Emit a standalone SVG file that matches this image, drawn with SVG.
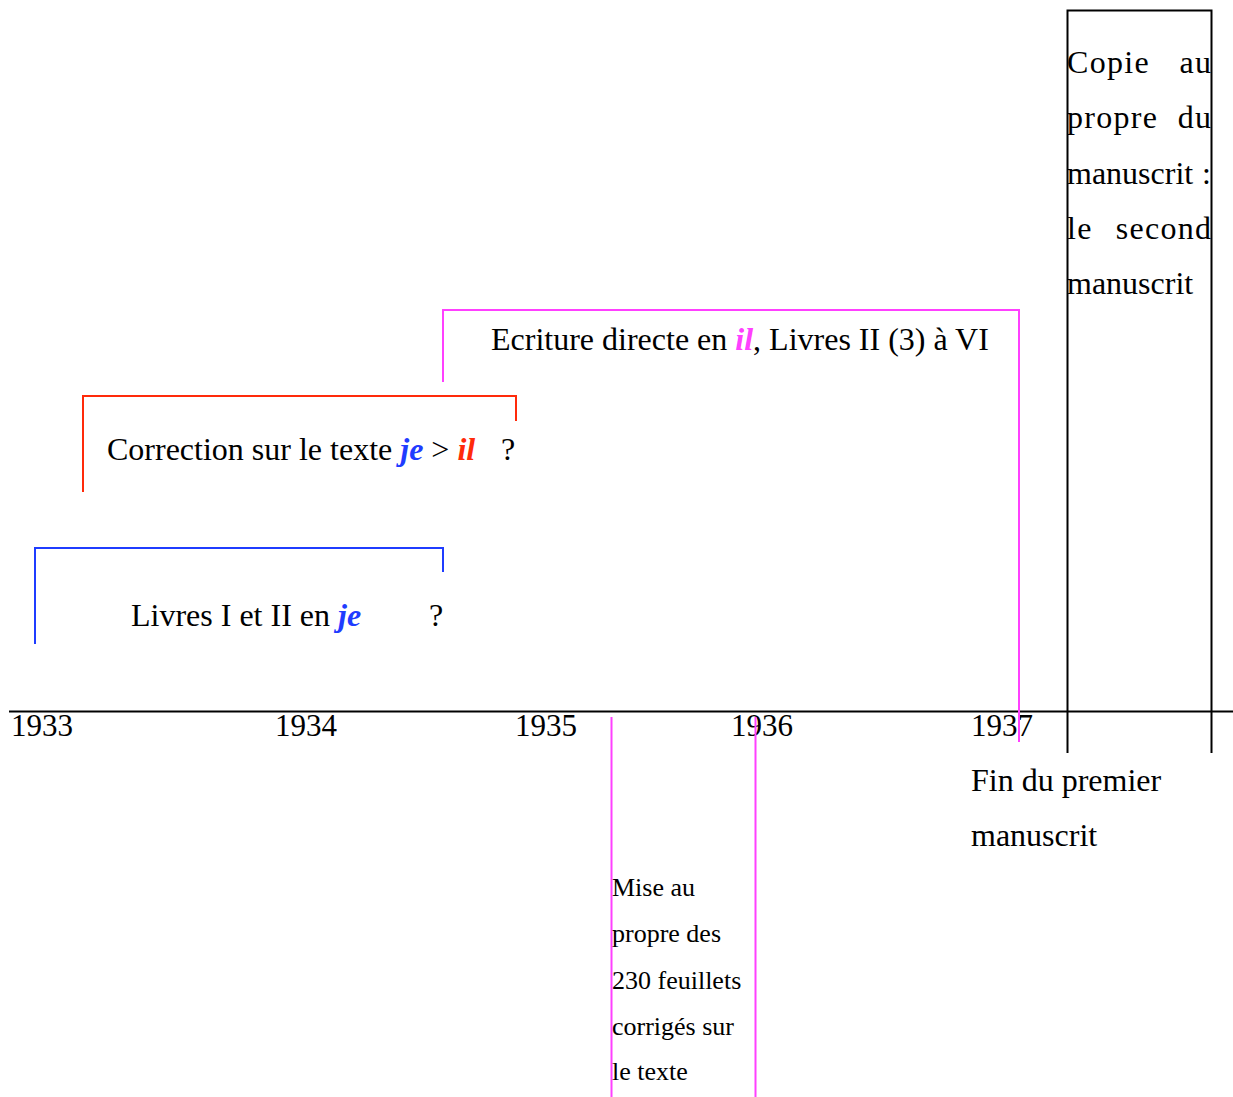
<svg xmlns="http://www.w3.org/2000/svg" width="1233" height="1097" viewBox="0 0 1233 1097">
  <style>
    text { font-family: "Liberation Serif", "Times New Roman", serif; fill: #000; }
    .lbl { font-size: 32px; }
    .yr { font-size: 31px; }
    .sm { font-size: 26px; }
    .em { font-weight: bold; font-style: italic; }
    .blue { fill: #1f3cff; }
    .red { fill: #ff2a0a; }
    .mag { fill: #ff40ff; }
    .ln { fill: none; stroke-width: 2; }
    .just { letter-spacing: 1.3px; }
  </style>

  <!-- time axis -->
  <g id="axis">
    <line x1="9" y1="711.5" x2="1233" y2="711.5" stroke="#000" stroke-width="2"/>
    <text class="yr" x="11" y="736">1933</text>
    <text class="yr" x="275" y="736">1934</text>
    <text class="yr" x="515" y="736">1935</text>
    <text class="yr" x="731" y="736">1936</text>
    <text class="yr" x="971" y="736">1937</text>
  </g>

  <!-- Livres I et II en je -->
  <g id="node-je">
    <polyline class="ln" stroke="#1f3cff" points="35,644 35,548 443,548 443,572"/>
    <text class="lbl" x="131" y="626">Livres I et II en <tspan class="em blue">je</tspan></text>
    <text class="lbl" x="429" y="626">?</text>
  </g>

  <!-- Correction je > il -->
  <g id="node-correction">
    <polyline class="ln" stroke="#ff2a0a" points="83,492 83,396 516,396 516,421"/>
    <text class="lbl" x="107" y="460">Correction sur le texte <tspan class="em blue">je</tspan> &gt; <tspan class="em red">il</tspan></text>
    <text class="lbl" x="501" y="460">?</text>
  </g>

  <!-- Ecriture directe en il -->
  <g id="node-ecriture">
    <polyline class="ln" stroke="#ff40ff" points="443,382 443,310 1019,310 1019,742"/>
    <text class="lbl" x="491" y="350">Ecriture directe en <tspan class="em mag">il</tspan>, Livres II (3) à VI</text>
  </g>

  <!-- Fin du premier manuscrit -->
  <g id="node-fin">
    <text class="lbl" x="971" y="791">Fin du premier</text>
    <text class="lbl" x="971" y="846">manuscrit</text>
  </g>

  <!-- Mise au propre des 230 feuillets -->
  <g id="node-mise">
    <line class="ln" stroke="#ff40ff" x1="611.5" y1="717" x2="611.5" y2="1097"/>
    <line class="ln" stroke="#ff40ff" x1="755.5" y1="717" x2="755.5" y2="1097"/>
    <text class="sm" x="612" y="896">Mise au</text>
    <text class="sm" x="612" y="942">propre des</text>
    <text class="sm" x="612" y="989">230 feuillets</text>
    <text class="sm" x="612" y="1035">corrigés sur</text>
    <text class="sm" x="612" y="1080">le texte</text>
  </g>

  <!-- Copie au propre : le second manuscrit (justified column) -->
  <g id="node-copie">
    <polyline class="ln" stroke="#000" points="1067.5,753 1067.5,10.5 1211.5,10.5 1211.5,753"/>
    <text class="lbl just" x="1067" y="73">Copie</text>
    <text class="lbl just" x="1212.3" y="73" text-anchor="end">au</text>
    <text class="lbl just" x="1067" y="128">propre</text>
    <text class="lbl just" x="1212.3" y="128" text-anchor="end">du</text>
    <text class="lbl" x="1067" y="184">manuscrit</text>
    <text class="lbl" x="1211" y="184" text-anchor="end">:</text>
    <text class="lbl just" x="1067" y="239">le</text>
    <text class="lbl just" x="1212.3" y="239" text-anchor="end">second</text>
    <text class="lbl" x="1067" y="294">manuscrit</text>
  </g>
</svg>
